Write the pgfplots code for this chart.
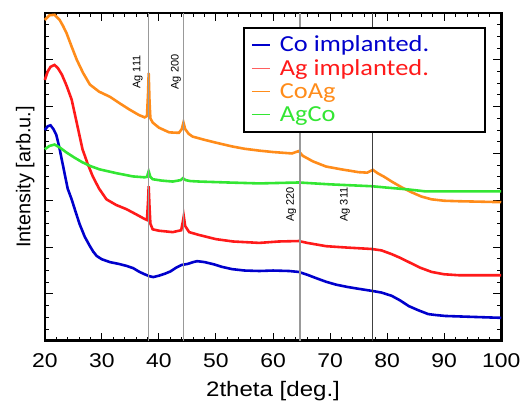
\documentclass[border=0pt]{standalone}
\usepackage{pgfplots}
\pgfplotsset{compat=1.18}
\usepackage{fontspec}
\setmainfont[FakeStretch=1.15]{Liberation Sans}
\newfontfamily\ylfont{Liberation Sans}
\newfontfamily\legfont[FakeStretch=1.15]{Carlito}
\definecolor{cblue}{HTML}{0000CC}
\definecolor{cred}{HTML}{FF1A1A}
\definecolor{corange}{HTML}{FF8C1A}
\definecolor{cgreen}{HTML}{33E633}
\definecolor{lgray}{HTML}{999999}
\newcommand{\legline}{\rule[0.28em]{9pt}{0.7pt}\hspace{5pt}}
\begin{document}
\begin{tikzpicture}
\begin{axis}[
  scale only axis, width=229pt, height=164.5pt,
  xmin=20, xmax=100, ymin=0, ymax=7,
  xtick distance=10, minor x tick num=4,
  ytick={0,1,...,7}, minor y tick num=3, yticklabels={},
  tick align=inside, tick pos=both,
  major tick length=4pt, minor tick length=2pt,
  every tick/.style={black, line width=0.5pt},
  axis line style={line width=1.3pt},
  /pgf/number format/assume math mode=true,
  ticklabel style={font=\fontsize{10}{12}\selectfont},
  xticklabel style={yshift=-3pt},
  xlabel={2theta [deg.]}, ylabel={Intensity [arb.u.]},
  xlabel style={font=\fontsize{10.5}{13}\selectfont, yshift=0pt},
  ylabel style={font=\ylfont\fontsize{10}{12}\selectfont, at={(rel axis cs:0,0.5)}, anchor=south, inner sep=0pt, yshift=5pt},
  clip=false,
  legend cell align=left,
  legend style={at={(rel axis cs:0.967,0.957)}, anchor=north east, line width=1pt, inner xsep=2pt, inner ysep=2pt, row sep=-1.5pt, column sep=0pt, font=\legfont\fontsize{11.5}{13}\selectfont},
  legend image code/.code={},
]
\addplot[cblue, line width=1.3pt] coordinates {(20,4.50) (20.5,4.58) (21,4.60) (21.5,4.52) (22,4.40) (22.5,4.15) (23,3.85) (23.5,3.55) (24,3.25) (24.7,3.02) (25.4,2.75) (26.1,2.49) (27,2.22) (27.9,2.02) (28.5,1.90) (29.1,1.81) (30,1.74) (31.4,1.68) (33,1.64) (34.3,1.60) (35.5,1.55) (36.6,1.47) (37.5,1.42) (38.3,1.38) (39,1.36) (40,1.39) (41,1.43) (42,1.48) (43,1.56) (44,1.62) (45,1.64) (46,1.68) (46.7,1.70) (48,1.68) (49.7,1.63) (51,1.58) (52.8,1.53) (55,1.50) (57.6,1.49) (60,1.50) (62.8,1.49) (64.5,1.47) (66,1.41) (67.5,1.34) (69.3,1.26) (71,1.20) (73,1.15) (75,1.11) (77.6,1.06) (79,1.03) (80.8,0.96) (82.3,0.86) (83.8,0.74) (85.5,0.65) (87.2,0.57) (88.5,0.55) (90.2,0.53) (95,0.51) (100,0.49)};
\addlegendentry{\textcolor{cblue}{\makebox[113pt][l]{\legline Co implanted.}}}
\addplot[cred, line width=1.3pt] coordinates {(20,5.57) (20.5,5.75) (21,5.85) (21.7,5.89) (22.3,5.82) (23,5.68) (23.8,5.45) (24.7,5.15) (25.6,4.65) (26.6,4.09) (27.5,3.78) (28.4,3.51) (29.5,3.25) (30.8,3.02) (32.5,2.90) (34.3,2.81) (36,2.70) (37.5,2.60) (37.9,2.58) (38.1,3.0) (38.2,3.30) (38.35,2.85) (38.5,2.50) (38.9,2.38) (40,2.35) (42.4,2.32) (43.9,2.36) (44.2,2.55) (44.35,2.66) (44.6,2.45) (45.3,2.32) (47,2.26) (50,2.17) (53,2.12) (57.6,2.09) (61,2.12) (64.5,2.13) (66,2.09) (69.3,2.02) (73,1.99) (77.3,1.96) (79,1.93) (80.8,1.85) (82.3,1.77) (83.8,1.68) (85.8,1.56) (87.8,1.47) (90,1.42) (92.5,1.40) (100,1.40)};
\addlegendentry{\textcolor{cred}{{\color{cred!70}\legline}Ag implanted.}}
\addplot[corange, line width=1.3pt] coordinates {(20,6.85) (20.8,6.95) (21.7,6.96) (22.6,6.85) (23.2,6.72) (23.8,6.57) (24.7,6.28) (25.6,6.0) (26.7,5.72) (27.9,5.47) (29.5,5.32) (31.4,5.21) (33,5.08) (34.8,4.94) (36.5,4.82) (37.5,4.77) (37.9,4.80) (38.1,5.3) (38.2,5.72) (38.35,5.1) (38.5,4.75) (38.9,4.66) (40,4.55) (41.8,4.45) (43.5,4.44) (44.0,4.52) (44.3,4.66) (44.6,4.52) (45.2,4.42) (45.9,4.36) (48,4.29) (50,4.23) (52.8,4.15) (55,4.10) (57.6,4.06) (60,4.03) (63.3,4.0) (64.5,4.05) (65.2,3.95) (67,3.83) (69.3,3.72) (72,3.66) (75,3.60) (76.5,3.59) (77.5,3.65) (78.3,3.58) (79.5,3.50) (80.8,3.40) (82.5,3.28) (84.3,3.17) (86,3.08) (87.8,3.02) (90,2.99) (92.5,2.98) (100,2.96)};
\addlegendentry{\textcolor{corange}{\legline CoAg}}
\addplot[cgreen, line width=1.3pt] coordinates {(20,4.09) (20.8,4.16) (21.7,4.19) (22.7,4.12) (23.8,4.02) (25.2,3.91) (26.6,3.81) (28,3.73) (29.6,3.66) (32.5,3.58) (35.4,3.51) (37.5,3.49) (37.9,3.50) (38.2,3.62) (38.5,3.50) (38.9,3.45) (40.5,3.42) (42.4,3.40) (43.8,3.43) (44.2,3.47) (44.7,3.43) (45.5,3.41) (47.1,3.40) (52,3.38) (57.6,3.36) (64.5,3.38) (70,3.34) (77.3,3.30) (80,3.27) (83.8,3.23) (86.7,3.19) (90,3.19) (100,3.19)};
\addlegendentry{\textcolor{cgreen}{\legline AgCo}}
\addplot[lgray, line width=0.8pt, forget plot] coordinates {(38.2,0) (38.2,7)};
\addplot[lgray, line width=0.8pt, forget plot] coordinates {(44.3,0) (44.3,7)};
\addplot[lgray, line width=0.8pt, forget plot] coordinates {(64.7,0) (64.7,7)};
\addplot[black!75, line width=0.5pt, forget plot] coordinates {(77.5,0) (77.5,7)};
\node[rotate=90, font=\ylfont\fontsize{5.5}{6}\selectfont, inner sep=0pt] at (axis cs:36.3,5.74) {Ag 111};
\node[rotate=90, font=\ylfont\fontsize{5.5}{6}\selectfont, inner sep=0pt] at (axis cs:43.0,5.74) {Ag 200};
\node[rotate=90, font=\ylfont\fontsize{5.5}{6}\selectfont, inner sep=0pt] at (axis cs:63.2,2.91) {Ag 220};
\node[rotate=90, font=\ylfont\fontsize{5.5}{6}\selectfont, inner sep=0pt] at (axis cs:72.6,2.91) {Ag 311};
\end{axis}
\path ([shift={(-22.5pt,-28.5pt)}]current axis.south west) rectangle ([shift={(12pt,6.5pt)}]current axis.north east);
\end{tikzpicture}
\end{document}
